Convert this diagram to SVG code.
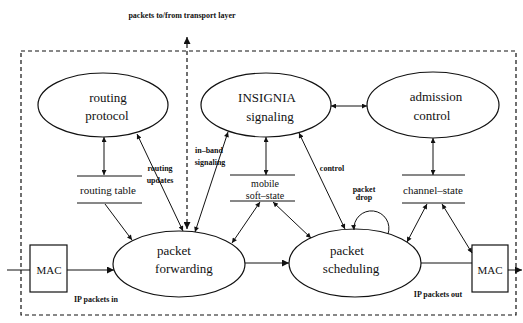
<svg xmlns="http://www.w3.org/2000/svg" width="523" height="323" viewBox="0 0 523 323">
<style>
text{font-family:"Liberation Serif","Times New Roman",serif;fill:#111;text-anchor:middle}
.lg{font-size:13px}
.tb{font-size:11px}
.ms{font-size:10px}
.sm{font-size:8px;font-weight:bold}
.node{fill:#fff;stroke:#111;stroke-width:1.2}
.ln{stroke:#111;stroke-width:1;fill:none}
.bd{stroke:#111;stroke-width:1.2;fill:none;stroke-dasharray:4 3}
.two{marker-start:url(#ah);marker-end:url(#ah)}
.one{marker-end:url(#ah)}
.big{marker-end:url(#bh)}
</style>
<defs>
<marker id="ah" viewBox="0 0 10 10" refX="10" refY="5" markerWidth="6" markerHeight="5" orient="auto-start-reverse" markerUnits="userSpaceOnUse"><path d="M0,0 L10,5 L0,10 z" fill="#111"/></marker>
<marker id="bh" viewBox="0 0 10 10" refX="10" refY="5" markerWidth="12" markerHeight="7" orient="auto-start-reverse" markerUnits="userSpaceOnUse"><path d="M0,0 L10,5 L0,10 z" fill="#111"/></marker>
</defs>
<rect width="523" height="323" fill="#fff"/>
<text class="sm" x="182" y="18" font-size="9">packets to/from transport layer</text>
<g id="boundary">
<path class="bd" d="M21,51 H516 V315 H21 Z"/>
</g>
<g id="routing-protocol"><ellipse class="node" cx="103" cy="105" rx="65" ry="32"/><text class="lg" x="108" y="102">routing</text><text class="lg" x="107" y="120">protocol</text></g>
<g id="insignia"><ellipse class="node" cx="266" cy="105" rx="65" ry="32"/><text class="lg" x="267" y="102">INSIGNIA</text><text class="lg" x="270" y="121">signaling</text></g>
<g id="admission-control"><ellipse class="node" cx="433" cy="105" rx="66" ry="33"/><text class="lg" x="436" y="101">admission</text><text class="lg" x="432" y="120">control</text></g>
<g id="packet-forwarding"><ellipse class="node" cx="179" cy="264" rx="66" ry="33"/><text class="lg" x="174" y="255">packet</text><text class="lg" x="184" y="273">forwarding</text></g>
<g id="packet-scheduling"><ellipse class="node" cx="355" cy="263" rx="66" ry="34"/><text class="lg" x="347" y="255">packet</text><text class="lg" x="351" y="273">scheduling</text></g>
<g id="routing-table"><path class="ln" d="M77,176 H142 M77,203 H142"/><text class="tb" x="108" y="194">routing table</text></g>
<g id="mobile-soft-state"><path class="ln" d="M230,175 H295 M230,201 H295"/><text class="ms" x="265" y="187">mobile</text><text class="ms" x="265" y="198.5">soft–state</text></g>
<g id="channel-state"><path class="ln" d="M402,175 H465 M402,203 H465"/><text class="tb" x="433" y="194">channel–state</text></g>
<g id="mac-in"><rect class="node" x="30" y="245" width="37" height="47"/><text class="tb" x="49" y="274">MAC</text></g>
<g id="mac-out"><rect class="node" x="472" y="245" width="36" height="47"/><text class="tb" x="490" y="274">MAC</text></g>
<g id="connectors">
<path class="ln two" d="M104,137 V175"/>
<path class="ln one" d="M105,204 L132,240"/>
<path class="ln two" d="M137,134 L183,231"/>
<path class="ln two" d="M228,132 L195,232"/>
<path class="ln two" d="M266,137 V175"/>
<path class="ln two" d="M260,202 L232,243"/>
<path class="ln two" d="M273,202 L311,238"/>
<path class="ln two" d="M299,133 L345,229"/>
<path class="ln two" d="M433,138 V175"/>
<path class="ln two" d="M427,204 L407,242"/>
<path class="ln two" d="M442,204 L472,253"/>
<path class="ln two" d="M331,106 H367"/>
<path class="ln" d="M7,270 H30"/>
<path class="ln big" d="M67,270 H114"/>
<path class="ln big" d="M245,263 H289"/>
<path class="ln" d="M421,263 H472"/>
<path class="ln big" d="M508,270 H522"/>
<path class="ln one" d="M388,234 A17.5,17.5 0 1 0 354,230"/>
<path class="bd" d="M187,37 V229" style="marker-start:url(#bh);marker-end:url(#bh)"/>
</g>
<g id="labels">
<text class="sm" x="160" y="171">routing</text>
<text class="sm" x="160" y="183">updates</text>
<text class="sm" x="209" y="153">in–band</text>
<text class="sm" x="210" y="165">signaling</text>
<text class="sm" x="332" y="171">control</text>
<text class="sm" x="364" y="192">packet</text>
<text class="sm" x="364" y="200">drop</text>
<text class="sm" x="96" y="302">IP packets in</text>
<text class="sm" x="438" y="297">IP packets out</text>
</g>
</svg>
